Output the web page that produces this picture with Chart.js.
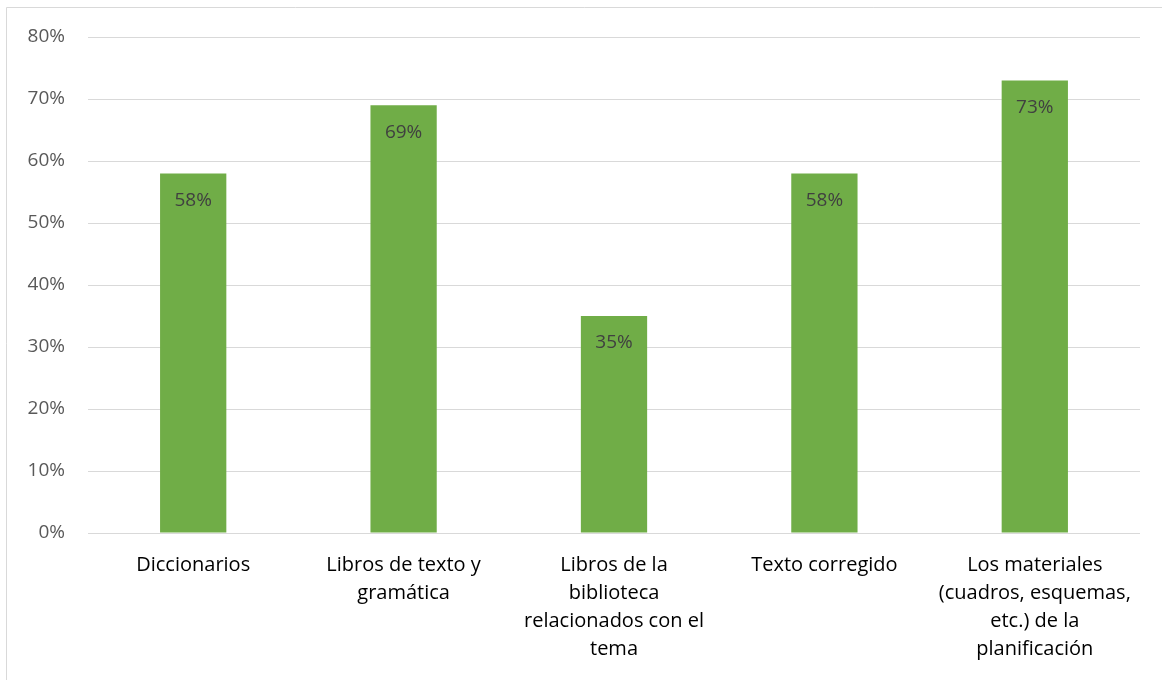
<!DOCTYPE html>
<html>
<head>
<meta charset="utf-8">
<script src="https://cdn.jsdelivr.net/npm/chart.js@4"></script>
<style>
  body { margin: 0; background: #fff; }
  #wrap { width: 1162px; height: 680px; }
</style>
</head>
<body>
<div id="wrap"><canvas id="mycanvas" width="1162" height="680"></canvas></div>
<script>
var categorias = [
	"Diccionarios",
	["Libros de texto y", "gramática"],
	["Libros de la", "biblioteca", "relacionados con el", "tema"],
	"Texto corregido",
	["Los materiales", "(cuadros, esquemas,", "etc.) de la", "planificación"]
];
var valores = [58, 69, 35, 58, 73];
var ticksY = [0, 10, 20, 30, 40, 50, 60, 70, 80];

var FONT = "'Open Sans', sans-serif";

// marco exterior del gráfico
var marco = {
	id: 'marco',
	beforeDraw: function(chart) {
		var ctx = chart.ctx;
		ctx.save();
		ctx.fillStyle = '#ffffff';
		ctx.fillRect(0, 0, chart.width, chart.height);
		ctx.strokeStyle = '#d9d9d9';
		ctx.lineWidth = 1;
		ctx.beginPath();
		ctx.moveTo(6.5, chart.height);
		ctx.lineTo(6.5, 7.5);
		ctx.lineTo(chart.width, 7.5);
		ctx.stroke();
		ctx.restore();
	}
};

// etiquetas de valor dentro de la barra
var etiquetas = {
	id: 'etiquetas',
	afterDatasetsDraw: function(chart) {
		var ctx = chart.ctx;
		var meta = chart.getDatasetMeta(0);
		ctx.save();
		ctx.font = '19px ' + FONT;
		ctx.fillStyle = '#404040';
		ctx.textAlign = 'center';
		ctx.textBaseline = 'middle';
		meta.data.forEach(function(bar, i) {
			ctx.fillText(valores[i] + '%', bar.x, bar.y + 27);
		});
		ctx.restore();
	}
};

var ctx = document.getElementById('mycanvas');
var barGraph = new Chart(ctx, {
	type: 'bar',
	data: {
		labels: categorias,
		datasets: [{
			data: valores,
			backgroundColor: '#70ad47',
			borderWidth: 0,
			barPercentage: 0.63,
			categoryPercentage: 0.5
		}]
	},
	options: {
		responsive: false,
		animation: false,
		layout: { padding: { left: 0, right: 22, top: 37, bottom: 0 } },
		plugins: {
			legend: { display: false },
			tooltip: { enabled: false }
		},
		scales: {
			x: {
				grid: { display: false, drawTicks: false },
				border: { display: false },
				ticks: {
					color: '#000000',
					font: { family: FONT, size: 20, lineHeight: 1.4 },
					padding: 18,
					maxRotation: 0,
					autoSkip: false
				},
				afterFit: function(scale) { scale.height = 147; }
			},
			y: {
				min: 0,
				max: 80,
				afterBuildTicks: function(scale) {
					scale.ticks = ticksY.map(function(v) { return { value: v }; });
				},
				grid: { color: '#d9d9d9', lineWidth: 1, drawTicks: false },
				border: { display: false },
				ticks: {
					color: '#595959',
					font: { family: FONT, size: 19 },
					padding: 23,
					callback: function(v) { return v + '%'; }
				},
				afterFit: function(scale) { scale.width = 88; }
			}
		}
	},
	plugins: [marco, etiquetas]
});
</script>
</body>
</html>
